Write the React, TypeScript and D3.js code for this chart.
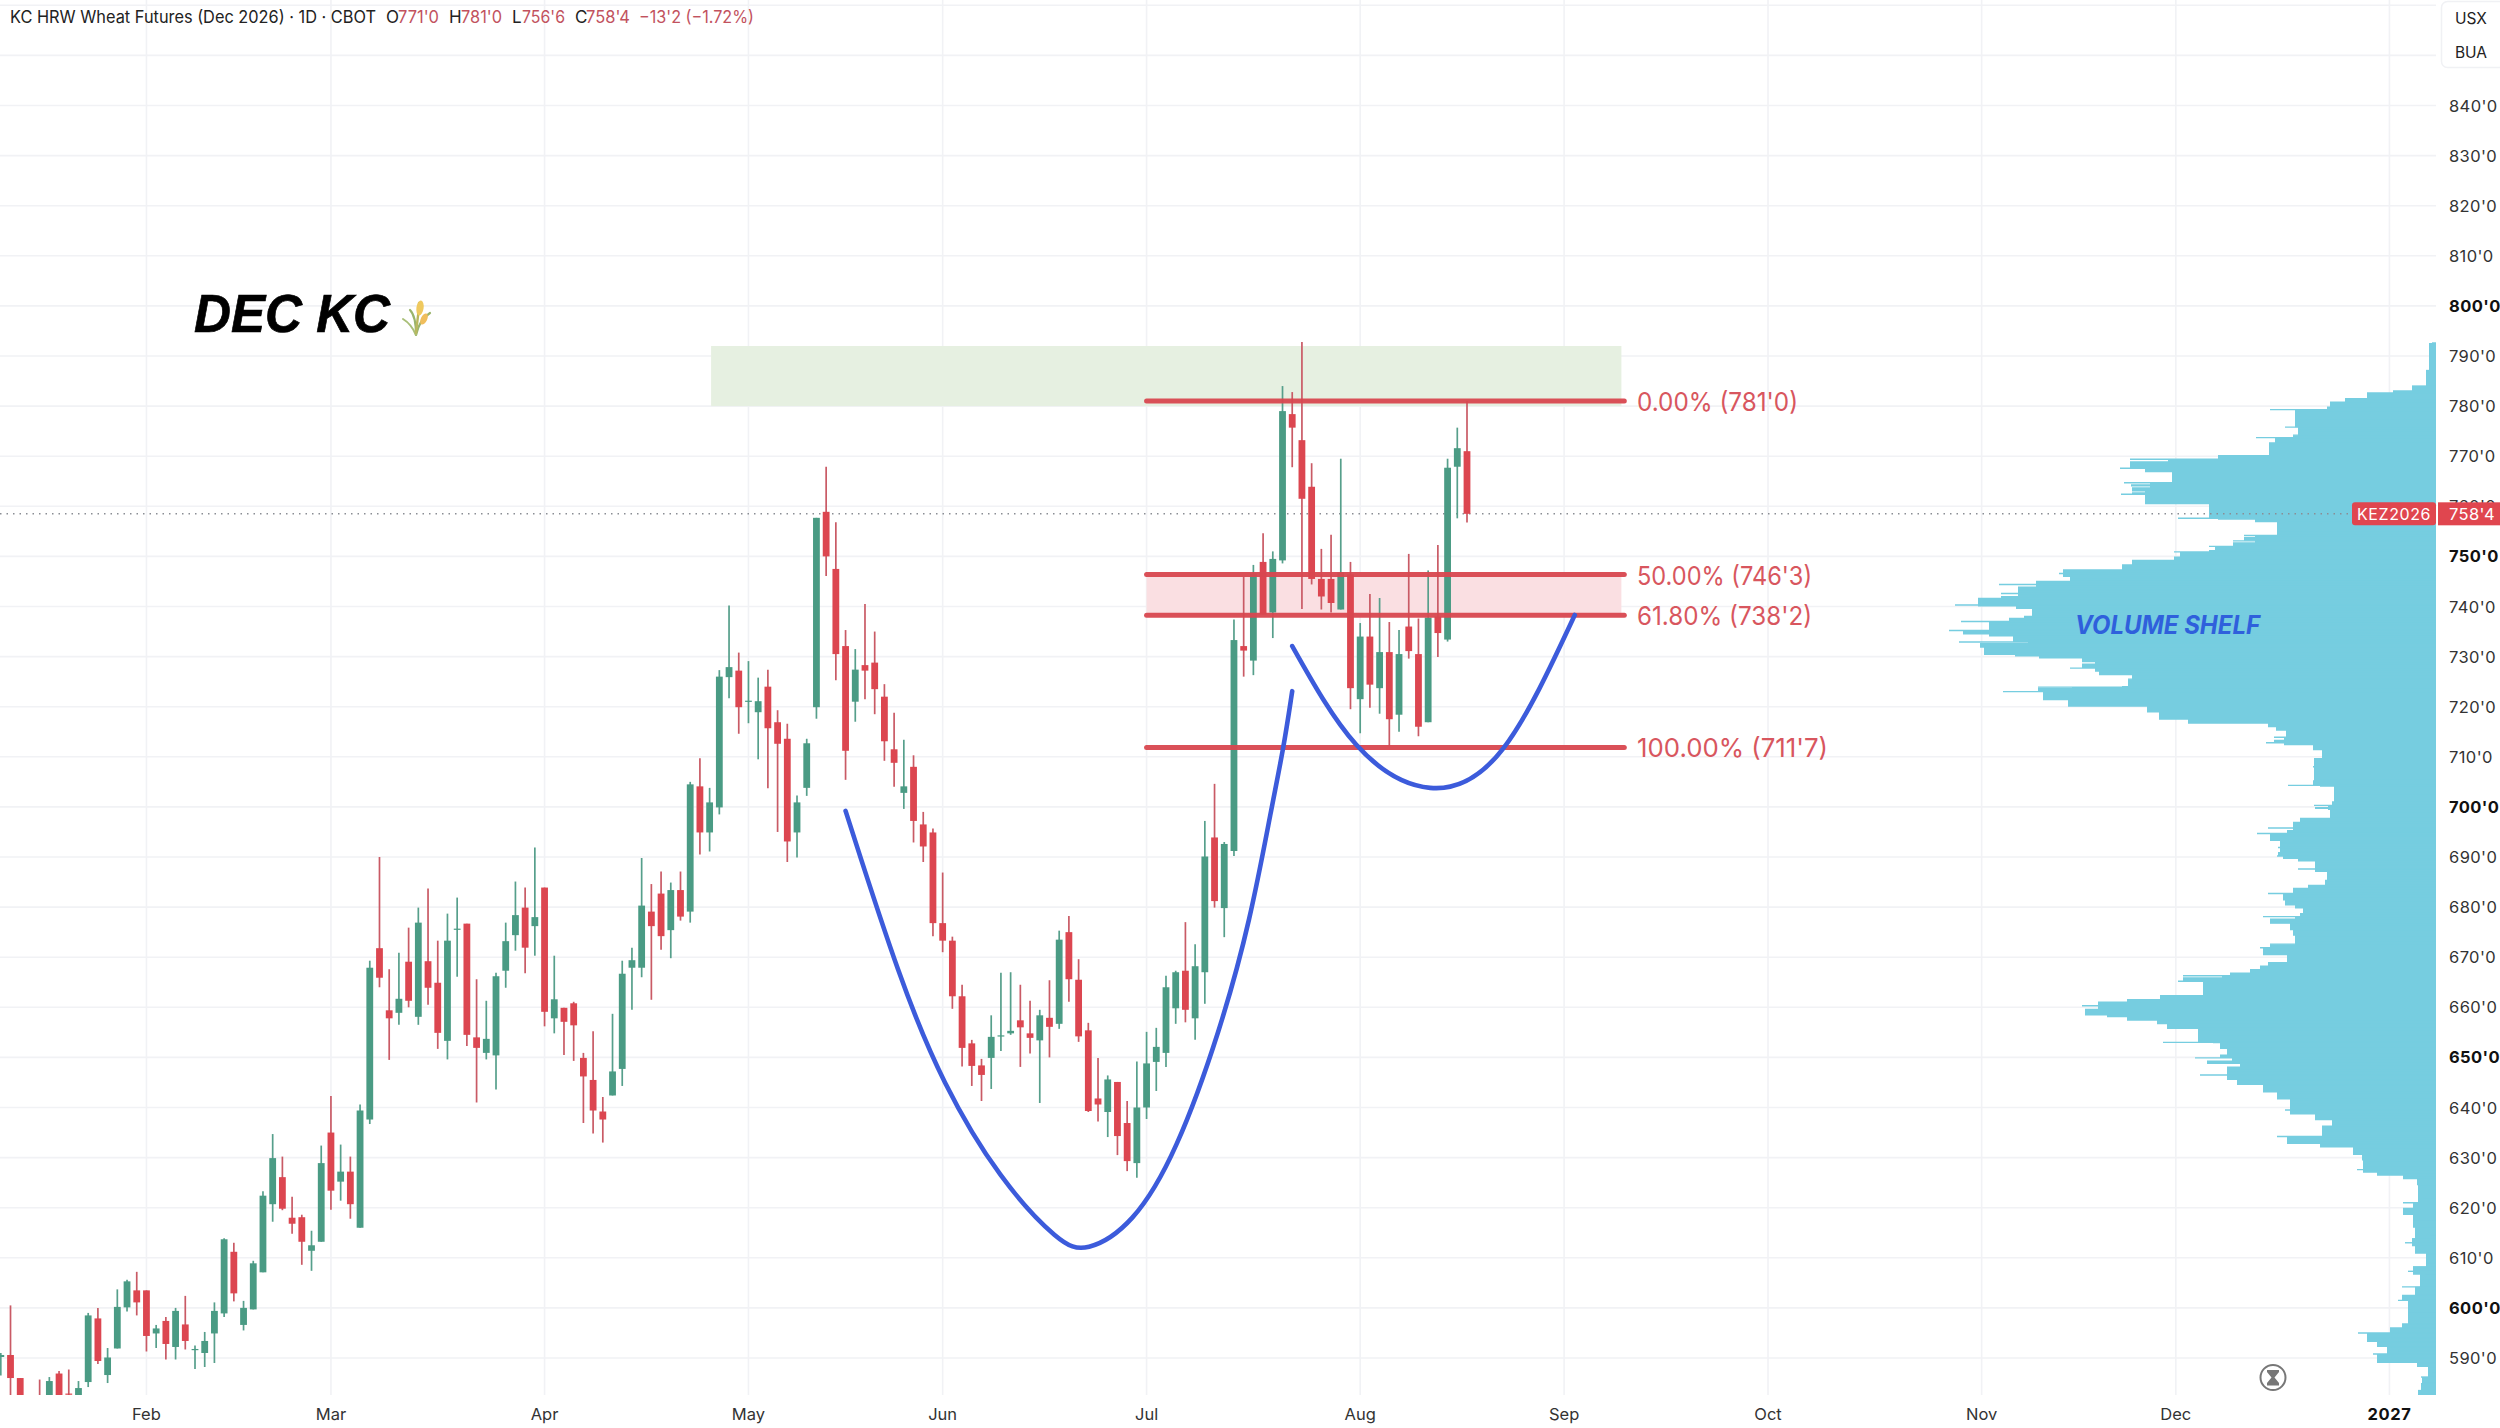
import React from "react";
import * as d3 from "d3";

// ---- candles (cents per bushel, one entry per trading day) ----
const barOpen = [
  590.2,590.6,586,581,582,581,586.9,582.9,582.4,585.2,
  597.9,586.6,591.9,600.1,603.5,603.5,594.9,597.4,592.2,596.7,
  591.7,591,594.9,598.9,611.2,596.6,599.7,607.1,620.7,626.1,
  618,618.1,611.4,613.2,635,625.2,627.2,616,637.6,671.8,
  659.4,658.9,669.1,658.1,669.2,664.9,653.3,675.6,676.7,654,
  650.9,650.4,667.3,674.4,679.9,676.2,683.9,657.8,659.9,660.8,
  649.9,645.5,639.2,642.4,647.7,667.9,667.9,679.1,682.7,675.4,
  683.4,679.1,704.1,694.9,699.9,725.9,727.2,721.1,718.9,724,
  716.9,713.6,694.9,703.8,719.9,758.9,747.5,732.1,721,728.3,
  728.8,722,711.5,702.8,708,696.5,694.9,676.8,673.3,662.2,
  652.8,648.4,649.9,654.3,654.8,657.4,654.8,653.4,657.9,656.7,
  675,665.5,655.4,641.8,639.1,645.1,636.9,628.9,640,649.1,
  650.9,659.8,667.3,657.8,667,693.9,679.8,691.2,732.1,729.2,
  748.9,738.8,749.2,778.4,773.2,763.9,745.5,745.5,739.4,746.4,
  721.5,734,723.7,730.9,718.4,736,730.5,716.9,738,733.4,
  767.9,771,
];
const barHigh = [
  591,600.5,586,582,585.7,586.2,587.4,587.7,585.4,599,
  600,592,603.7,605.6,607.2,603.5,596.6,598.2,600,602.4,
  592.5,595.2,601.1,613.9,613,601.4,609.4,623.3,634.7,630.2,
  622.2,618.6,615.4,632.4,642.3,632.6,630.2,640.6,669.3,690,
  667.6,670.9,675.9,679.9,683.7,673.3,678.7,681.9,676.7,665.6,
  661.3,666.9,676.9,685.1,683.9,691.9,683.9,670.3,659.9,661.1,
  650.9,655.2,642.1,658.7,669.3,671.9,689.8,684.6,687.1,684.9,
  687.1,705,709.7,703.8,727.3,740.2,730.8,729.1,725.8,727.4,
  719.3,716.6,702.3,713.6,757.7,767.9,756.8,735.3,731.5,740.5,
  735,724.5,718.8,713.4,710.3,699,695.7,686.9,674.1,664.5,
  653.5,649.7,658.4,666.9,667,664.5,661.3,659.5,665.4,675.3,
  678.2,669.6,656.9,649.9,646.4,645.1,641.3,649.2,655.1,655.9,
  666.3,667.3,677,672.6,697.2,704.6,693,737.4,745.9,748.3,
  754.6,751,784,782.8,792.8,768.6,751.5,754.3,769.5,748.9,
  736.7,742.5,741.7,736.9,735.3,750.5,737.6,747.2,752.3,769.5,
  775.7,781,
];
const barLow = [
  586.5,582.2,578,578,577,580,580,582.6,582,584.2,
  588.8,585,591.9,599.3,598.5,591.3,592,589.7,589.7,591.7,
  587.8,588.2,589,598.2,601.3,595.5,599.7,607.1,617.2,619.5,
  614.8,608.6,607.4,613.2,619.6,621.4,617.8,616,636.7,664,
  649.5,656.5,660,656.5,660.5,651.7,649.6,666.1,652.3,641,
  649.6,643.6,663.9,671.3,666.8,670.3,656.2,654.8,650.5,649.3,
  636.9,634.8,633,642.4,644.3,659.5,666,661.5,671.5,669.8,
  677.3,676.9,690.5,691.1,698.5,721.7,714.6,716.7,709.5,703.7,
  695,689,689.9,702.2,717.6,746.1,725.3,705.4,717,721.5,
  718.5,709.2,704,699.6,692.9,689,674.2,671,659.7,648.2,
  644.3,641.3,643.7,651.3,654.5,648.1,650.8,640.9,650,655.7,
  661.1,653.1,639.1,637.2,634.1,630.5,627.3,626,637.7,643.3,
  648.1,656.7,657,653.5,660.7,679.9,674,690.2,726,726.3,
  738.4,733.7,748.6,767.8,739.5,744.4,739.4,738.8,739.4,719.5,
  714.7,719.8,718.6,712.1,715,729.6,714.1,716.9,729.9,733,
  757.6,756.75,
];
const barClose = [
  590.6,586,580,580,579,585.4,581,582.7,584,598.5,
  589.4,590.1,600.2,605.3,601.1,594.4,595.9,592.8,599.4,593.4,
  591.8,593.4,599.4,613.7,602.9,600,608.9,622.4,629.9,619.8,
  616.8,613.2,612.5,628.9,623.4,627.2,620.7,639.4,667.9,665.9,
  657.8,661.7,661.3,676.9,663.9,654.9,673.3,675.7,654.5,651.9,
  653.7,666.2,673.2,678.4,671.9,678,659.1,661.6,657.1,656.4,
  646.2,639.4,637.6,647.2,666.7,669.4,680.3,676.2,674.2,683.4,
  678.1,704.5,694.9,700.9,726,727.9,719.9,721.2,721.1,715.7,
  712.6,693.1,700.9,712.7,757.7,750,730.5,711.2,727.4,727.2,
  723.5,713.1,708.8,704.1,697.2,692.1,676.8,673.3,662.2,651.9,
  648.3,646.5,654.1,654.4,655.3,656,653.9,658.4,656.1,673.5,
  665.6,654.2,639.3,640.6,645.6,634.3,629.3,640,648.8,652.1,
  664,667,659.5,668.2,690.1,681.2,692.6,733.3,731.2,746.6,
  738.4,749.5,779,775.7,761.5,745.5,742,740.7,746.8,723.7,
  734,724.4,730.9,717.5,730.5,731.1,716,737.8,734.7,767.7,
  771.6,758.5,
];

// ---- volume profile: price of each row and its length ----
const profilePrice = [
  792.6,787.1,784,783,782.6,781.5,780.8,779.8,779.3,779.1,777.5,775.8,775.4,775,774.2,773.7,772.8,771.8,770.1,769.4,
  769,767.6,767.1,766.8,765.6,764.7,764.4,764.1,763.8,763.1,762.8,762.4,762.1,760.4,758.5,757.6,757.3,756.8,754.8,754.2,
  753.9,753.1,752.8,752,751.3,750.9,750,749.2,748.3,747.3,746.6,745.9,745.4,745,744.4,744,743.3,742.6,742.1,741.6,
  740.3,740,739.5,739,738,737.6,737,736.6,736.3,735.2,735,734.4,734,733.3,732.9,732.7,731.9,731,730.3,730,
  729.6,729,728.6,727.7,727.4,727,726.3,725.8,725.5,724,723.9,723.8,723,722.3,721.3,720,719,718,717.4,716.6,
  715.9,715.2,714.3,713.9,713.4,712.8,712.3,711.3,710.6,709.6,708,705.3,704.3,704,702.3,701,700.3,700,699.7,699.4,
  698.7,697.7,696.9,695.8,695.4,695,694.7,694.2,693.2,692.8,691.9,691,690.2,689.6,689.1,688.4,687.6,687.3,687,686.3,
  685.3,684.3,683.7,682.7,682,681.3,680.3,679.7,679.1,678.7,678.1,677.7,676.8,676.4,675.4,674.3,673.3,672.6,671.9,671.3,
  670.4,669.5,668.9,668.2,667.5,666.8,666.3,666,665.2,664.8,663.8,663.1,662.3,661.5,661,660.3,659.7,658.5,658,657.3,
  656.6,655.8,655.2,654.2,653,652.8,651.8,650.6,649.9,649.4,648.8,648.2,647.4,646.5,645.5,644.5,643,641.6,641.1,640.6,
  639.5,638.6,637.6,636.4,635.3,634.2,633.4,632.7,632,630.5,629.4,628.4,627.6,627,626.4,625.7,624.5,622,621,620,
  618.7,617.3,616,614.6,613.8,613,612.3,610.8,609,608.2,607.3,606.6,605.6,604.2,602.6,601.5,599.2,598,596.8,596,
  595,594,593.2,592.2,591.4,590.8,590,589,588.2,587.2,586.2,585,583.5,582.6,
];
const profileVolume = [
  4,10,24,43,69,91,106,109,166,141,138,151,138,126,143,180,161,167,218,306,
  268,316,291,249,264,312,286,305,273,304,291,315,291,227,218,258,181,148,159,192,
  181,203,181,227,221,262,256,304,314,373,377,316,366,400,437,393,418,435,406,458,
  481,420,404,383,412,427,475,447,435,487,473,447,423,408,477,408,456,452,421,397,
  327,354,341,366,341,337,304,283,308,314,398,364,433,393,368,252,289,277,248,168,
  160,150,135,162,152,170,123,96,114,122,123,116,148,102,89,104,122,108,121,106,
  97,136,143,168,143,149,179,166,143,156,158,153,159,138,114,121,138,121,101,109,
  111,128,143,168,153,151,141,133,124,136,173,141,166,146,143,141,133,166,176,173,
  133,149,168,176,186,206,253,214,258,233,223,233,276,309,338,354,329,351,309,279,
  236,269,238,223,273,209,216,204,241,196,229,189,209,236,199,173,159,146,124,146,
  151,104,121,104,114,159,149,116,83,74,67,73,79,59,33,19,18,13,33,23,
  33,23,21,6,24,31,21,9,10,23,28,11,16,34,21,38,28,17,34,46,
  78,69,59,49,38,63,59,19,8,4,15,14,18,18,
];

// ---- cup and handle annotation curves (bar number, price) ----
const cupBar = [87, 92.6, 97, 102.9, 109.1, 111.7, 116.6, 121.1, 125.6, 128.7, 130.9, 132.1, 133];
const cupPrice = [699.2, 665.4, 644.7, 625.5, 612.8, 611, 616.5, 631.1, 655.5, 677.4, 700.2, 711.6, 723.1];
const handleBar = [133, 139.6, 147.2, 154.7, 162.1];
const handlePrice = [732.1, 712.4, 703.8, 711.6, 738.3];

// ---- axes ----
const priceTicks = d3.range(590, 860 + 1, 10);
const priceLabelTicks = d3.range(590, 840 + 1, 10);
const monthBars = [15, 34, 56, 77, 97, 118, 140, 161, 182, 204, 224, 246];
const monthLabels = ["Feb", "Mar", "Apr", "May", "Jun", "Jul", "Aug", "Sep", "Oct", "Nov", "Dec", "2027"];

// ---- levels ----
const fibPrices = [781, 746.375, 738.25, 711.875];
const fibLabels = ["0.00% (781'0)", "50.00% (746'3)", "61.80% (738'2)", "100.00% (711'7)"];
const supplyZone = { top: 792, bottom: 780, from: 73.15, to: 166.9 };
const fibSpan = { from: 118, to: 167.2 };
const lastPrice = 758.5;

const UP = "#4a9b84";
const DOWN = "#dc4650";
const GRID = "#f1f2f5";
const RED_LINE = "#d8474f";
const BLUE = "#3c5bdb";
const PROFILE = "#76cde0";
const SANS = "Inter, 'Noto Sans', sans-serif";

const plotRight = 2436;
const plotBottom = 1395;

export default function App() {
  const y = d3.scaleLinear().domain([590, 840]).range([1358, 105.5]);
  const x = d3.scaleLinear().domain([0, 151]).range([0.8, 1467]);
  const vol = d3.scaleLinear().domain([0, 500]).range([plotRight, plotRight - 500]);

  // solid body of the profile: each row drawn at the middle length of itself and its neighbours
  const bodyVolume = profileVolume.map((_, i) =>
    d3.median(profileVolume.slice(Math.max(0, i - 1), i + 2)) as number
  );
  const profileBody = d3
    .area<number>()
    .curve(d3.curveStepBefore)
    .x0(plotRight)
    .x1((_, i) => vol(bodyVolume[i]))
    .y((p) => y(p))(profilePrice) as string;

  const cupLine = d3
    .line<[number, number]>()
    .curve(d3.curveBasis)
    .x((d) => x(d[0]))
    .y((d) => y(d[1]));
  const handleLine = d3
    .line<[number, number]>()
    .curve(d3.curveNatural)
    .x((d) => x(d[0]))
    .y((d) => y(d[1]));
  const cupPath = cupLine(cupBar.map((b, i) => [b, cupPrice[i]] as [number, number])) as string;
  const handlePath = handleLine(handleBar.map((b, i) => [b, handlePrice[i]] as [number, number])) as string;

  const bodyW = 6.8;
  const boldTick = (p: number) => p % 50 === 0;
  const fmt = (p: number) => `${p}'0`;
  const fibLabelWidth = (s: string) => (s.startsWith("100") ? 191 : s.startsWith("0") ? 161 : 175);

  return (
    <svg
      width={2500}
      height={1428}
      viewBox="0 0 2500 1428"
      style={{ position: "absolute", left: 0, top: 0, display: "block", background: "#fff" }}
      fontFamily={SANS}
    >
      <defs>
        <clipPath id="plot">
          <rect x={0} y={0} width={plotRight} height={plotBottom} />
        </clipPath>
      </defs>

      <g clipPath="url(#plot)">
        {/* grid */}
        {priceTicks.map((p) => (
          <line key={p} x1={0} x2={plotRight} y1={y(p)} y2={y(p)} stroke={GRID} strokeWidth={1.6} />
        ))}
        {monthBars.map((b) => (
          <line key={b} x1={x(b)} x2={x(b)} y1={0} y2={plotBottom} stroke={GRID} strokeWidth={1.6} />
        ))}

        {/* zones */}
        <rect
          x={x(supplyZone.from)}
          width={x(supplyZone.to) - x(supplyZone.from)}
          y={y(supplyZone.top)}
          height={y(supplyZone.bottom) - y(supplyZone.top)}
          fill="#e6f0e1"
        />
        <rect
          x={x(fibSpan.from)}
          width={x(supplyZone.to) - x(fibSpan.from)}
          y={y(fibPrices[1])}
          height={y(fibPrices[2]) - y(fibPrices[1])}
          fill="#fadfe2"
        />

        {/* volume profile */}
        <path d={profileBody} fill={PROFILE} />
        {profilePrice.map((p, i) => (
          <line
            key={p}
            x1={plotRight}
            x2={vol(profileVolume[i])}
            y1={y(p)}
            y2={y(p)}
            stroke={PROFILE}
            strokeWidth={1.4}
          />
        ))}

        {/* last price line */}
        <line
          x1={0}
          x2={plotRight - 84}
          y1={y(lastPrice)}
          y2={y(lastPrice)}
          stroke="#8a8d94"
          strokeWidth={1.5}
          strokeDasharray="1.5 5"
        />

        {/* candles */}
        {barOpen.map((o, i) => {
          const c = barClose[i];
          const up = c >= o;
          const top = y(Math.max(o, c));
          const bot = y(Math.min(o, c));
          const color = up ? UP : DOWN;
          return (
            <g key={i}>
              <line
                x1={x(i)}
                x2={x(i)}
                y1={y(barHigh[i])}
                y2={y(barLow[i])}
                stroke={up ? "#569f8b" : "#c95a65"}
                strokeWidth={1.7}
              />
              <rect x={x(i) - bodyW / 2} y={top} width={bodyW} height={Math.max(bot - top, 1.2)} fill={color} />
            </g>
          );
        })}

        {/* fib lines */}
        {fibPrices.map((p) => (
          <line
            key={p}
            x1={x(fibSpan.from)}
            x2={x(fibSpan.to)}
            y1={y(p)}
            y2={y(p)}
            stroke={RED_LINE}
            strokeOpacity={0.95}
            strokeWidth={5}
            strokeLinecap="round"
          />
        ))}

        {/* cup and handle */}
        <path d={cupPath} fill="none" stroke={BLUE} strokeWidth={4.6} strokeLinecap="round" />
        <path d={handlePath} fill="none" stroke={BLUE} strokeWidth={4.6} strokeLinecap="round" />
      </g>

      {/* fib labels */}
      {fibPrices.map((p, i) => (
        <text
          key={p}
          x={1637}
          y={y(p) + 10}
          fontSize={26}
          fill="#d8565e"
          fontFamily={SANS}
          textLength={fibLabelWidth(fibLabels[i])}
          lengthAdjust="spacingAndGlyphs"
        >
          {fibLabels[i]}
        </text>
      ))}

      <text
        x={2075}
        y={634}
        fontSize={25}
        fontWeight={700}
        fontStyle="italic"
        fill="#2f60dc"
        textLength={185}
        lengthAdjust="spacingAndGlyphs"
      >
        VOLUME SHELF
      </text>

      {/* title */}
      <text
        x={194}
        y={331.5}
        fontFamily="'Liberation Sans', Arial, sans-serif"
        fontWeight={700}
        fontStyle="italic"
        fontSize={54}
        fill="#000"
        stroke="#000"
        strokeWidth={0.7}
        textLength={196}
        lengthAdjust="spacingAndGlyphs"
      >
        DEC KC
      </text>
      {/* wheat icon */}
      <g fill="none" strokeLinecap="round">
        <path d="M416 335 C416 324 414 314 410 310" stroke="#9ab46c" strokeWidth={2.2} />
        <path d="M416 335 C418 326 422 318 430 313" stroke="#9ab46c" strokeWidth={2.2} />
        <path d="M416 335 C413 328 408 322 403 319" stroke="#a9bf78" strokeWidth={2} />
        <path d="M416 333 C417 322 419 312 419 303" stroke="#b9b85f" strokeWidth={2.4} />
        <ellipse cx={420} cy={308} rx={3.6} ry={7.5} fill="#efc95f" transform="rotate(8 420 308)" />
        <ellipse cx={424} cy={319} rx={3.2} ry={6} fill="#f0be5c" transform="rotate(25 424 319)" />
      </g>

      {/* header */}
      <g fontSize={17} fontFamily={SANS}>
        <text x={10} y={23} fill="#222" textLength={366} lengthAdjust="spacingAndGlyphs">
          KC HRW Wheat Futures (Dec 2026) · 1D · CBOT
        </text>
        <text x={386} y={23} fill="#222">O</text>
        <text x={398} y={23} fill="#c2525e" textLength={41} lengthAdjust="spacingAndGlyphs">771'0</text>
        <text x={449} y={23} fill="#222">H</text>
        <text x={461} y={23} fill="#c2525e" textLength={41} lengthAdjust="spacingAndGlyphs">781'0</text>
        <text x={512} y={23} fill="#222">L</text>
        <text x={522} y={23} fill="#c2525e" textLength={43} lengthAdjust="spacingAndGlyphs">756'6</text>
        <text x={575} y={23} fill="#222">C</text>
        <text x={586} y={23} fill="#c2525e" textLength={44} lengthAdjust="spacingAndGlyphs">758'4</text>
        <text x={639} y={23} fill="#c2525e" textLength={115} lengthAdjust="spacingAndGlyphs">−13'2 (−1.72%)</text>
      </g>

      {/* price axis */}
      {priceLabelTicks.map((p) => (
        <text
          key={p}
          x={2449}
          y={y(p) + 6}
          fontSize={16.5}
          fill={boldTick(p) ? "#111" : "#333"}
          fontWeight={boldTick(p) ? 700 : 400}
          letterSpacing={0.4}
        >
          {fmt(p)}
        </text>
      ))}

      {/* unit box */}
      <rect x={2441.5} y={1.5} width={70} height={66} rx={6} fill="#fff" stroke="#f0f1f4" strokeWidth={1.5} />
      <text x={2471} y={23.5} textAnchor="middle" fontSize={15.5} fill="#222">USX</text>
      <text x={2471} y={57.5} textAnchor="middle" fontSize={15.5} fill="#222">BUA</text>

      {/* last price labels */}
      <rect x={2352} y={y(lastPrice) - 11.5} width={84} height={23} rx={3} fill="#e0464f" />
      <rect x={2438} y={y(lastPrice) - 11.5} width={62} height={23} fill="#e0464f" />
      <text x={2394} y={y(lastPrice) + 5.8} textAnchor="middle" fontSize={16} fill="#fff" letterSpacing={0.6}>KEZ2026</text>
      <text x={2449} y={y(lastPrice) + 5.8} fontSize={16.5} fill="#fff" letterSpacing={0.4}>758'4</text>

      {/* time axis */}
      {monthBars.map((b, i) => (
        <text
          key={b}
          x={x(b)}
          y={1420}
          textAnchor="middle"
          fontSize={16.5}
          fill={monthLabels[i] === "2027" ? "#111" : "#333"}
          fontWeight={monthLabels[i] === "2027" ? 700 : 400}
          letterSpacing={monthLabels[i] === "2027" ? 0.6 : 0}
        >
          {monthLabels[i]}
        </text>
      ))}

      {/* session icon */}
      <circle cx={2273} cy={1377.5} r={12.5} fill="none" stroke="#777" strokeWidth={2} />
      <path d="M2267 1370 h12 v2 l-4.5 5.5 l4.5 5.5 v2.5 h-12 v-2.5 l4.5 -5.5 l-4.5 -5.5 z" fill="#777" />
    </svg>
  );
}
